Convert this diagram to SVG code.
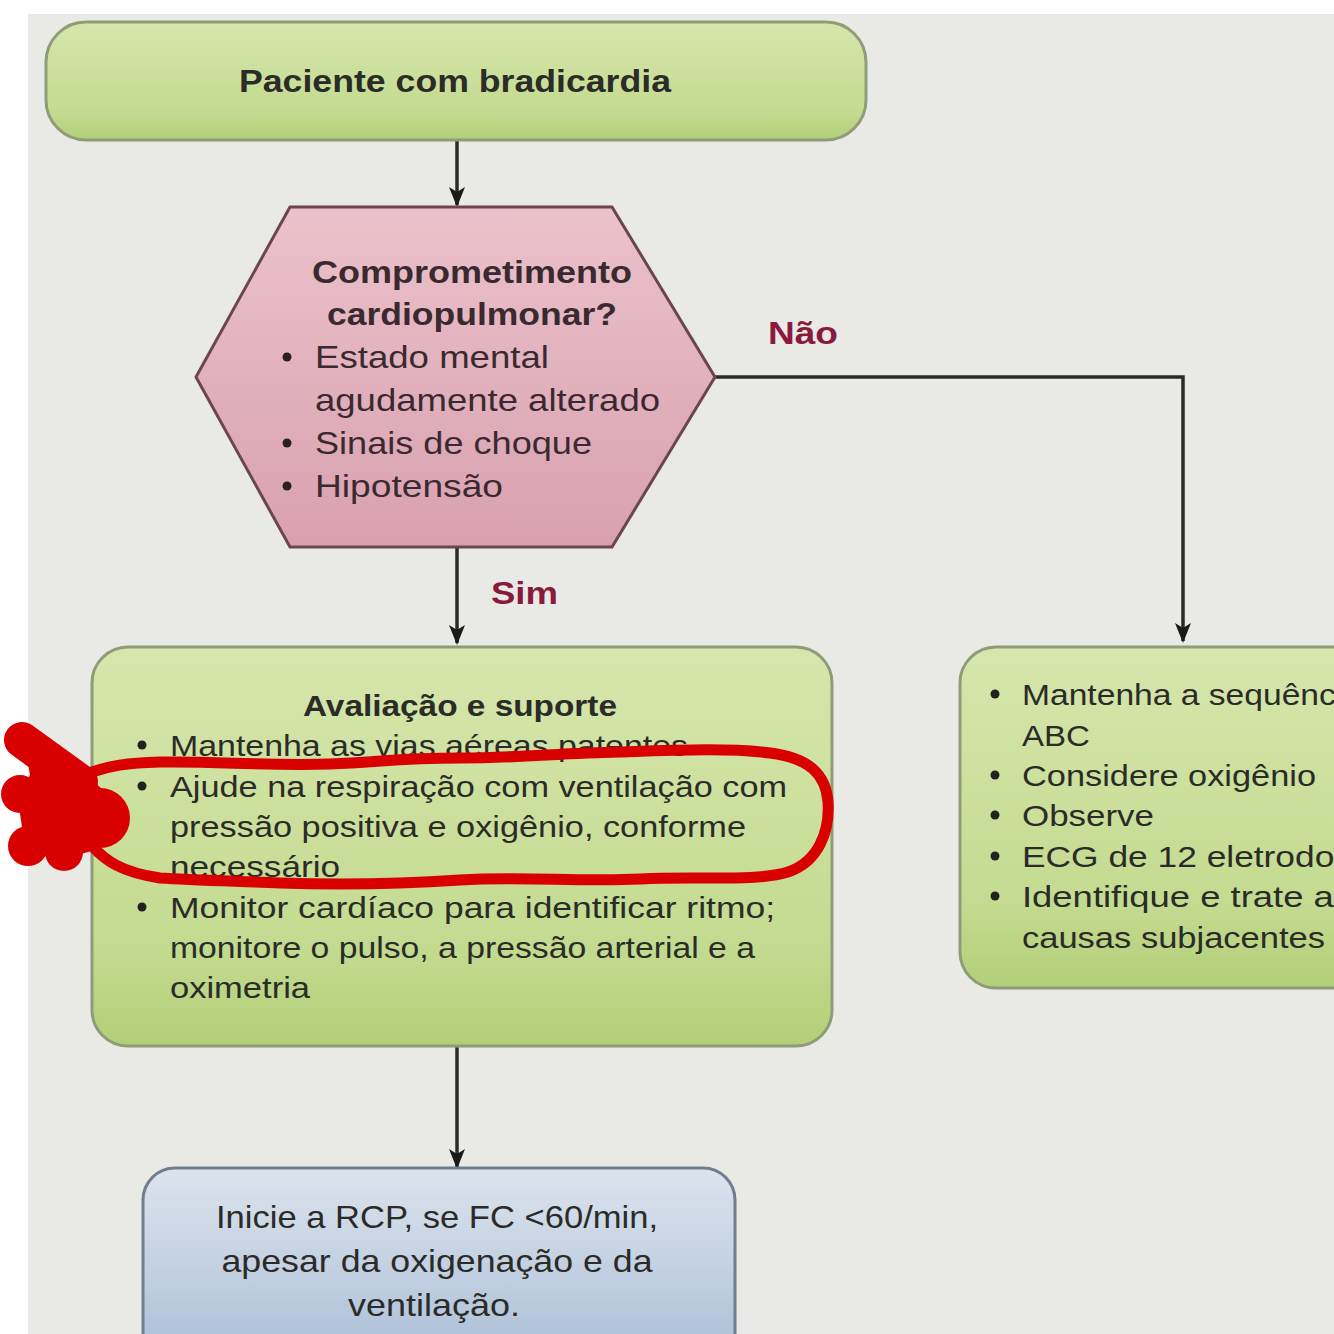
<svg xmlns="http://www.w3.org/2000/svg" width="1334" height="1334" viewBox="0 0 1334 1334">
<defs>
<linearGradient id="gGreen" x1="0" y1="0" x2="0" y2="1">
<stop offset="0" stop-color="#d7e6ad"/>
<stop offset="0.75" stop-color="#c3db90"/>
<stop offset="1" stop-color="#b2cf78"/>
</linearGradient>
<linearGradient id="gPink" x1="0" y1="0" x2="0" y2="1">
<stop offset="0" stop-color="#ebc2cb"/>
<stop offset="1" stop-color="#d9a0b0"/>
</linearGradient>
<linearGradient id="gBlue" x1="0" y1="0" x2="0" y2="1">
<stop offset="0" stop-color="#dce4ee"/>
<stop offset="1" stop-color="#a9bdd6"/>
</linearGradient>
<marker id="arr" markerWidth="20" markerHeight="18" refX="18" refY="9" orient="auto" markerUnits="userSpaceOnUse" viewBox="0 0 20 18">
<path d="M0,1 L20,9 L0,17 L5,9 Z" fill="#1a1a1a"/>
</marker>
<style>
.t{font-family:"Liberation Sans",Arial,sans-serif;fill:#2b2b28;}
.b{font-weight:bold;}
.h{fill:#3a2a30;}
.lbl{font-family:"Liberation Sans",Arial,sans-serif;font-weight:bold;fill:#8a1a3c;font-size:32px;}
.green{fill:url(#gGreen);stroke:#8f9c78;stroke-width:3;}
.conn{stroke:#2a2a2a;stroke-width:3.5;fill:none;}
.red{stroke:#d80000;fill:none;stroke-linecap:round;stroke-linejoin:round;}
</style>
</defs>
<rect x="0" y="0" width="1334" height="1334" fill="#ffffff"/>
<rect x="28" y="14" width="1306" height="1320" fill="#e9e9e6"/>

<g id="connectors">
<line class="conn" x1="457" y1="141" x2="457" y2="205" marker-end="url(#arr)"/>
<line class="conn" x1="457" y1="548" x2="457" y2="643" marker-end="url(#arr)"/>
<polyline class="conn" points="715,377 1183,377 1183,641" marker-end="url(#arr)"/>
<line class="conn" x1="457" y1="1047" x2="457" y2="1167" marker-end="url(#arr)"/>
<text class="lbl" x="768" y="344" textLength="70" lengthAdjust="spacingAndGlyphs">Não</text>
<text class="lbl" x="491" y="604" textLength="67" lengthAdjust="spacingAndGlyphs">Sim</text>
</g>

<g id="node-start">
<rect class="green" x="46" y="22" width="820" height="118" rx="40"/>
<text class="t b" x="455" y="92" font-size="31" text-anchor="middle" textLength="432" lengthAdjust="spacingAndGlyphs">Paciente com bradicardia</text>
</g>

<g id="node-decision">
<polygon points="290,207 612,207 715,377 612,547 290,547 196,377" fill="url(#gPink)" stroke="#6b4552" stroke-width="3"/>
<text class="t b h" x="472" y="283" font-size="32" text-anchor="middle" textLength="320" lengthAdjust="spacingAndGlyphs">Comprometimento</text>
<text class="t b h" x="472" y="325" font-size="32" text-anchor="middle" textLength="290" lengthAdjust="spacingAndGlyphs">cardiopulmonar?</text>
<g class="t h" font-size="32">
<circle cx="287" cy="357" r="4.5" fill="#2a2024"/>
<text x="315" y="368" textLength="234" lengthAdjust="spacingAndGlyphs">Estado mental</text>
<text x="315" y="411" textLength="345" lengthAdjust="spacingAndGlyphs">agudamente alterado</text>
<circle cx="287" cy="443" r="4.5" fill="#2a2024"/>
<text x="315" y="454" textLength="277" lengthAdjust="spacingAndGlyphs">Sinais de choque</text>
<circle cx="287" cy="486" r="4.5" fill="#2a2024"/>
<text x="315" y="497" textLength="188" lengthAdjust="spacingAndGlyphs">Hipotensão</text>
</g>
</g>

<g id="node-avaliacao">
<rect class="green" x="92" y="647" width="740" height="399" rx="36"/>
<text class="t b" x="460" y="716" font-size="30" text-anchor="middle" textLength="314" lengthAdjust="spacingAndGlyphs">Avaliação e suporte</text>
<g class="t" font-size="30">
<circle cx="142" cy="745" r="4.5" fill="#222"/>
<text x="170" y="756" textLength="518" lengthAdjust="spacingAndGlyphs">Mantenha as vias aéreas patentes</text>
<circle cx="142" cy="786" r="4.5" fill="#222"/>
<text x="170" y="797" textLength="617" lengthAdjust="spacingAndGlyphs">Ajude na respiração com ventilação com</text>
<text x="170" y="837" textLength="576" lengthAdjust="spacingAndGlyphs">pressão positiva e oxigênio, conforme</text>
<text x="170" y="877" textLength="170" lengthAdjust="spacingAndGlyphs">necessário</text>
<circle cx="142" cy="907" r="4.5" fill="#222"/>
<text x="170" y="918" textLength="605" lengthAdjust="spacingAndGlyphs">Monitor cardíaco para identificar ritmo;</text>
<text x="170" y="958" textLength="585" lengthAdjust="spacingAndGlyphs">monitore o pulso, a pressão arterial e a</text>
<text x="170" y="998" textLength="140" lengthAdjust="spacingAndGlyphs">oximetria</text>
</g>
</g>

<g id="node-nao">
<rect class="green" x="960" y="647" width="420" height="341" rx="36"/>
<g class="t" font-size="30">
<circle cx="995" cy="694" r="4.5" fill="#222"/>
<text x="1022" y="705" textLength="340" lengthAdjust="spacingAndGlyphs">Mantenha a sequência</text>
<text x="1022" y="746" textLength="68" lengthAdjust="spacingAndGlyphs">ABC</text>
<circle cx="995" cy="775" r="4.5" fill="#222"/>
<text x="1022" y="786" textLength="294" lengthAdjust="spacingAndGlyphs">Considere oxigênio</text>
<circle cx="995" cy="815" r="4.5" fill="#222"/>
<text x="1022" y="826" textLength="132" lengthAdjust="spacingAndGlyphs">Observe</text>
<circle cx="995" cy="856" r="4.5" fill="#222"/>
<text x="1022" y="867" textLength="330" lengthAdjust="spacingAndGlyphs">ECG de 12 eletrodos</text>
<circle cx="995" cy="896" r="4.5" fill="#222"/>
<text x="1022" y="907" textLength="330" lengthAdjust="spacingAndGlyphs">Identifique e trate as</text>
<text x="1022" y="948" textLength="303" lengthAdjust="spacingAndGlyphs">causas subjacentes</text>
</g>
</g>

<g id="node-rcp">
<rect x="143" y="1168" width="592" height="200" rx="32" fill="url(#gBlue)" stroke="#6f7f90" stroke-width="3"/>
<g class="t" font-size="32" text-anchor="middle">
<text x="437" y="1228" textLength="442" lengthAdjust="spacingAndGlyphs">Inicie a RCP, se FC &lt;60/min,</text>
<text x="437" y="1272" textLength="431" lengthAdjust="spacingAndGlyphs">apesar da oxigenação e da</text>
<text x="434" y="1316" textLength="172" lengthAdjust="spacingAndGlyphs">ventilação.</text>
</g>
</g>

<g id="annotation">
<path class="red" stroke-width="11" d="M92,772 C110,766 125,763 160,762 C220,761 260,766 330,764 C380,762 400,758 460,758 C520,758 560,753 620,752 C680,750 730,748 770,753 C810,758 826,775 828,802 C830,832 818,862 788,872 C755,882 700,876 640,879 C580,882 520,876 460,880 C400,884 340,885 280,883 C230,881 190,880 160,878 C120,872 105,860 92,846"/>
<g fill="#d80000">
<path class="red" stroke-width="36" d="M22,740 L80,782"/>
<polygon points="25,745 85,775 122,805 95,850 60,860 25,848 18,800 30,775"/>
<circle cx="20" cy="794" r="19"/>
<circle cx="70" cy="808" r="36"/>
<circle cx="100" cy="818" r="30"/>
<circle cx="28" cy="846" r="20"/>
<circle cx="64" cy="852" r="19"/>
</g>
</g>
</svg>
